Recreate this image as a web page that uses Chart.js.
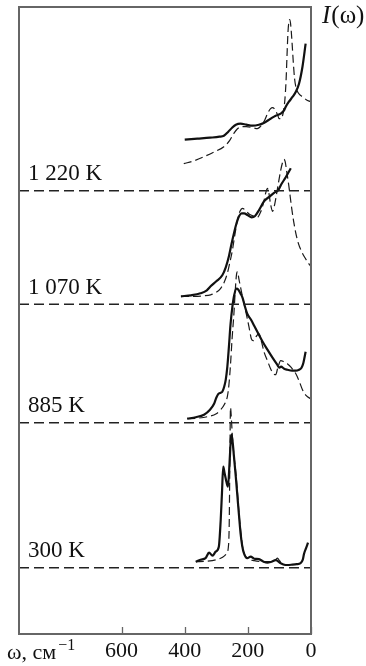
<!DOCTYPE html>
<html>
<head>
<meta charset="utf-8">
<title>I(ω)</title>
<script src="https://cdn.jsdelivr.net/npm/chart.js@4.4.1/dist/chart.umd.min.js"></script>
<style>
  html, body { margin: 0; padding: 0; background: #fff; }
  canvas { display: block; }
</style>
</head>
<body>
<canvas id="spectra" width="366" height="666"></canvas>
<script>
// Temperatures of the spectra, top to bottom, and the vertical shift of each baseline
const temperatures = ['1 220 K', '1 070 K', '885 K', '300 K'];
const baselineShift = [443.3, 329.7, 211.3, 66.3];
const omegaTicks = [600, 400, 200, 0];
const omegaMax = 925;
const intensityMax = 627;

// Measured spectra (solid): [ω, cm^-1; intensity above the baseline]
const exp1220 = [[400,51],[360,52],[320,53],[290,54],[276,55],[262,59],[250,63],[238,66],[223,67],[205,66],[185,65],[165,66],[148,68],[128,72],[112,75],[96,77],[86,80],[80,84],[70,89],[58,94],[48,99],[38,107],[27,124],[17,147]];
const exp1070 = [[412,8],[380,9],[350,11],[330,14],[318,18],[300,23],[281,29],[270,37],[260,48],[252,60],[244,71],[236,81],[228,88],[220,91],[212,91],[200,89],[188,87],[178,88],[165,94],[149,103],[130,108],[115,112],[104,114],[94,120],[80,127],[64,136]];
const exp885 = [[392,4],[365,5.5],[339,8],[320,13],[307,19],[300,25],[293,29],[286,30],[281,31],[275,36],[270,43],[265,56],[260,76],[255,98],[249,116],[243,128],[236,134],[230,133],[223,129],[217,125],[210,117],[202,109],[190,103],[180,97],[170,91],[155,82],[138,73],[122,65],[107,58],[100,55],[95,56],[85,54],[75,53],[60,52],[48,52],[38,53],[30,55],[24,60],[17,71]];
const exp300 = [[365,6],[350,8],[334,9.5],[323,15],[312,12],[302,16],[292,21],[286,48],[282,75],[278,101],[274,95],[268,86],[263,81],[258,105],[254,128],[252,133],[248,125],[244,111],[238,90],[233,71],[228,52],[223,34],[218,22],[212,14],[202,9.5],[191,11],[180,9],[165,8.5],[150,6],[138,5],[125,6],[112,7.5],[96,4.5],[85,3],[75,2.7],[60,3],[45,3.5],[33,4.5],[26,8],[22,14],[15,20],[9.5,25]];

// Calculated spectra (dashed)
const calc1220 = [[403,27],[370,30],[339,34],[305,39],[276,44],[258,50],[245,57],[233,62],[220,64],[205,64],[185,63],[170,62],[158,65],[146,71],[138,77],[128,82],[122,83],[114,81],[106,76],[101,72],[95,72],[88,78],[83,90],[79,110],[76,135],[73,158],[70,169],[67,171],[64,165],[60,148],[56,128],[52,112],[48,104],[44,100],[36,96],[27,94],[15,91],[1,89]];
const calc1070 = [[412,8],[370,8],[340,8.5],[318,9.5],[300,12],[286,16],[275,22],[265,31],[257,42],[249,54],[241,70],[233,84],[225,93],[217,96],[208,94],[195,90],[180,88],[170,87],[160,92],[150,102],[143,112],[138,116],[134,112],[128,100],[122,93],[115,100],[105,118],[96,134],[90,142],[86,145],[82,143],[77,133],[70,118],[62,98],[55,83],[48,71],[40,61],[30,53],[22,48],[10,42],[1,38]];
const calc885 = [[392,4],[360,4.5],[328,6],[300,9],[286,13],[275,18],[265,26],[260,38],[255,58],[250,84],[244,110],[240,132],[236,148],[233,151],[228,143],[217,126],[207,112],[196,95],[189,84],[183,82],[174,86],[165,89],[156,80],[149,71],[138,62],[128,54],[119,49],[112,48],[105,55],[96,62],[86,61],[75,59],[62,55],[48,49],[38,42],[27,33],[15,27],[1,24]];
const calc300 = [[365,6],[330,6.5],[300,8],[280,10.5],[268,14],[262,20],[259,45],[257,110],[255,160],[252,148],[249,131],[244,112],[239,98],[233,76],[228,54],[222,35],[217,21],[210,13],[200,9],[180,7],[150,6],[125,6],[112,8],[106,9.5],[100,7],[92,5],[85,4]];

const measured = [exp1220, exp1070, exp885, exp300];
const calculated = [calc1220, calc1070, calc885, calc300];

const SERIF = '"Liberation Serif", "Times New Roman", serif';

// lift a spectrum onto its own baseline
function shifted(points, shift) {
    return points.map(([w, v]) => ({ x: w, y: v + shift }));
}

const datasets = [];
temperatures.forEach((t, i) => {
    datasets.push({
        label: t + ' exp',
        data: shifted(measured[i], baselineShift[i]),
        borderColor: '#111',
        borderWidth: 2.2,
        cubicInterpolationMode: 'monotone',
        pointRadius: 0
    });
    datasets.push({
        label: t + ' calc',
        data: shifted(calculated[i], baselineShift[i]),
        borderColor: '#1a1a1a',
        borderWidth: 1.2,
        borderDash: [8, 4],
        cubicInterpolationMode: 'monotone',
        pointRadius: 0
    });
    // zero line of this spectrum
    datasets.push({
        label: t + ' zero',
        data: [{ x: omegaMax, y: baselineShift[i] }, { x: 0, y: baselineShift[i] }],
        borderColor: '#222',
        borderWidth: 1.4,
        borderDash: [10, 5],
        pointRadius: 0
    });
});

// Box around the plot, inward ticks and all free-standing text
const framePlugin = {
    id: 'frame',
    afterDraw(chart) {
        const { ctx, chartArea: a, scales: { x, y } } = chart;
        ctx.save();
        ctx.strokeStyle = '#666';
        ctx.lineWidth = 2;
        ctx.strokeRect(a.left, a.top, a.right - a.left, a.bottom - a.top);

        ctx.lineWidth = 1.3;
        ctx.beginPath();
        omegaTicks.forEach(v => {
            const px = Math.round(x.getPixelForValue(v)) + 0.5;
            ctx.moveTo(px, a.bottom);
            ctx.lineTo(px, a.bottom - 7);
        });
        ctx.stroke();

        ctx.fillStyle = '#111';
        ctx.textAlign = 'left';
        ctx.textBaseline = 'alphabetic';
        ctx.font = '23px ' + SERIF;
        temperatures.forEach((t, i) => {
            ctx.fillText(t, a.left + 9, y.getPixelForValue(baselineShift[i]) - 10.5);
        });

        // axis name: ω, см^-1
        ctx.font = '22px ' + SERIF;
        ctx.fillText('ω, см', 7, 659);
        const w = ctx.measureText('ω, см').width;
        ctx.font = '16px ' + SERIF;
        ctx.fillText('−1', 7 + w + 2, 650);

        // I(ω)
        ctx.font = 'italic 25px ' + SERIF;
        ctx.fillText('I', a.right + 11, 23);
        const wi = ctx.measureText('I').width;
        ctx.font = '25px ' + SERIF;
        ctx.fillText('(ω)', a.right + 11 + wi + 1, 23);
        ctx.restore();
    }
};

new Chart(document.getElementById('spectra').getContext('2d'), {
    type: 'line',
    data: { datasets },
    options: {
        responsive: false,
        animation: false,
        devicePixelRatio: 1,
        layout: { padding: { left: 19, right: 55, top: 7, bottom: 0 } },
        plugins: { legend: { display: false }, tooltip: { enabled: false } },
        scales: {
            x: {
                type: 'linear',
                min: 0,
                max: omegaMax,
                reverse: true,
                afterBuildTicks: scale => { scale.ticks = omegaTicks.map(v => ({ value: v })); },
                afterFit: scale => { scale.height = 32; },
                grid: { display: false, drawTicks: false },
                border: { display: false },
                ticks: {
                    padding: 4,
                    maxRotation: 0,
                    color: '#111',
                    font: { family: SERIF, size: 22 },
                    callback: v => String(v)
                }
            },
            y: {
                type: 'linear',
                min: 0,
                max: intensityMax,
                display: false
            }
        }
    },
    plugins: [framePlugin]
});
</script>
</body>
</html>
